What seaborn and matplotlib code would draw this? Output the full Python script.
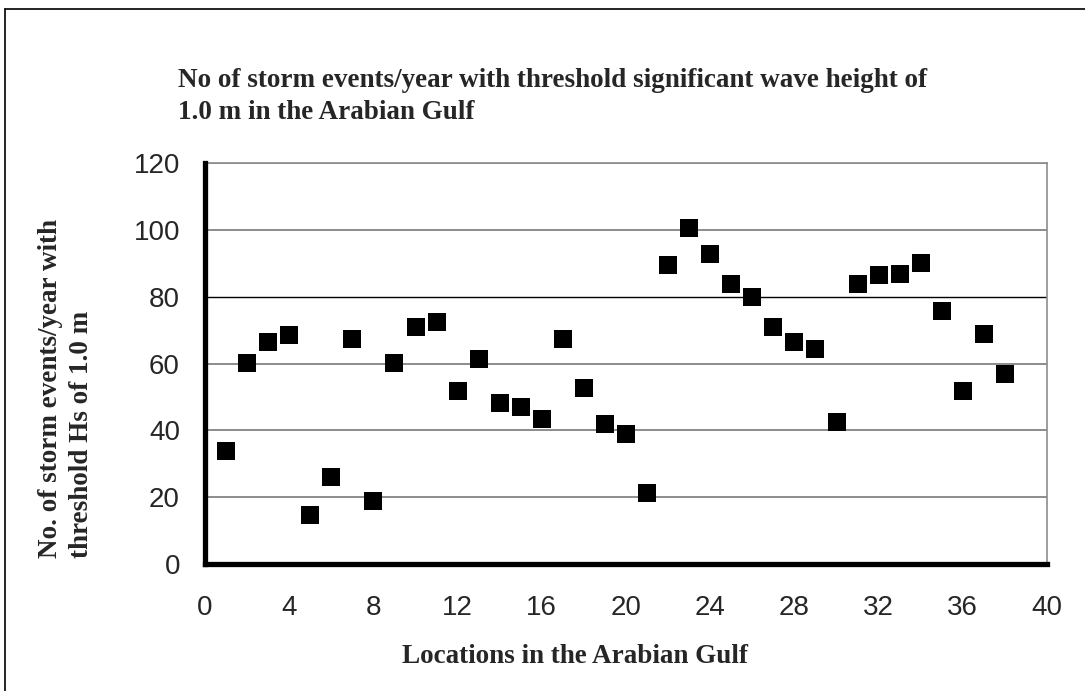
import numpy as np
import pandas as pd
import matplotlib
matplotlib.use("Agg")
import matplotlib.pyplot as plt
import seaborn as sns

# Location number along the Gulf
locations = list(range(1, 39))
# Storm events per year (Hs threshold 1.0 m)
storm_events = [33.8, 60.2, 66.4, 68.5, 14.7, 26.1, 67.3, 18.9, 60.1, 70.8,
                72.3, 51.8, 61.4, 48.1, 47.0, 43.4, 67.3, 52.6, 41.9, 38.9,
                21.3, 89.4, 100.4, 92.9, 83.7, 80.0, 70.8, 66.4, 64.2, 42.5,
                83.7, 86.4, 86.9, 90.0, 75.6, 51.7, 68.7, 56.8]
x_ticks = list(range(0, 41, 4))
y_ticks = list(range(0, 121, 20))

title = ("No of storm events/year with threshold significant wave height of\n"
         "1.0 m in the Arabian Gulf")
x_label = "Locations in the Arabian Gulf"
y_label = "No. of storm events/year with\nthreshold Hs of 1.0 m"

df = pd.DataFrame({"loc": locations, "events": storm_events})

sns.set_style("white")
plt.rcParams["font.family"] = ["Liberation Sans", "DejaVu Sans"]

W, H = 1085, 691
fig = plt.figure(figsize=(W / 100, H / 100), dpi=100)
ax = fig.add_axes([205 / W, (H - 564) / H, 842 / W, 401 / H])

# outer frame (cut at right/bottom in the original)
fig.add_artist(plt.Line2D([5 / W, 5 / W], [0, 1 - 9 / H], transform=fig.transFigure,
                          color="black", lw=1.2))
fig.add_artist(plt.Line2D([5 / W, 1], [1 - 9 / H, 1 - 9 / H], transform=fig.transFigure,
                          color="black", lw=1.2))

sns.scatterplot(data=df, x="loc", y="events", marker="s", s=165, color="black",
                linewidth=0, ax=ax, zorder=3, clip_on=False)

ax.set_xlim(0, 40)
ax.set_ylim(0, 120)
ax.set_xticks(x_ticks)
ax.set_yticks(y_ticks)
ax.yaxis.grid(True, color="#8c8c8c", lw=1.4)
ax.xaxis.grid(False)
ax.set_axisbelow(True)
# the 80 gridline is drawn darker in the original
ax.get_ygridlines()[4].set_color("black")
ax.get_ygridlines()[4].set_linewidth(1.0)

for s in ["left", "bottom"]:
    ax.spines[s].set_color("black")
    ax.spines[s].set_linewidth(3.8)
    ax.spines[s].set_zorder(4)
for s in ["top", "right"]:
    ax.spines[s].set_color("#8c8c8c")
    ax.spines[s].set_linewidth(1.2)

ax.tick_params(axis="both", which="major", direction="out", length=8, width=3,
               color="black", labelsize=20)
ax.tick_params(axis="x", pad=14)
ax.tick_params(axis="y", pad=10)
ax.set_xlabel("")
ax.set_ylabel("")

fig.text(178 / W, 1 - 68 / H, title, ha="left", va="top", fontsize=19.5,
         fontweight="bold", family="Liberation Serif", linespacing=1.35)
fig.text(402 / W, 1 - 663 / H, x_label, ha="left", va="baseline", fontsize=19.5,
         fontweight="bold", family="Liberation Serif")
fig.text(66 / W, 1 - 558 / H, y_label, ha="center", va="bottom", rotation=90,
         multialignment="left", fontsize=19.5, fontweight="bold",
         family="Liberation Serif", linespacing=1.35)

fig.savefig("out.png", dpi=100, facecolor="white")
